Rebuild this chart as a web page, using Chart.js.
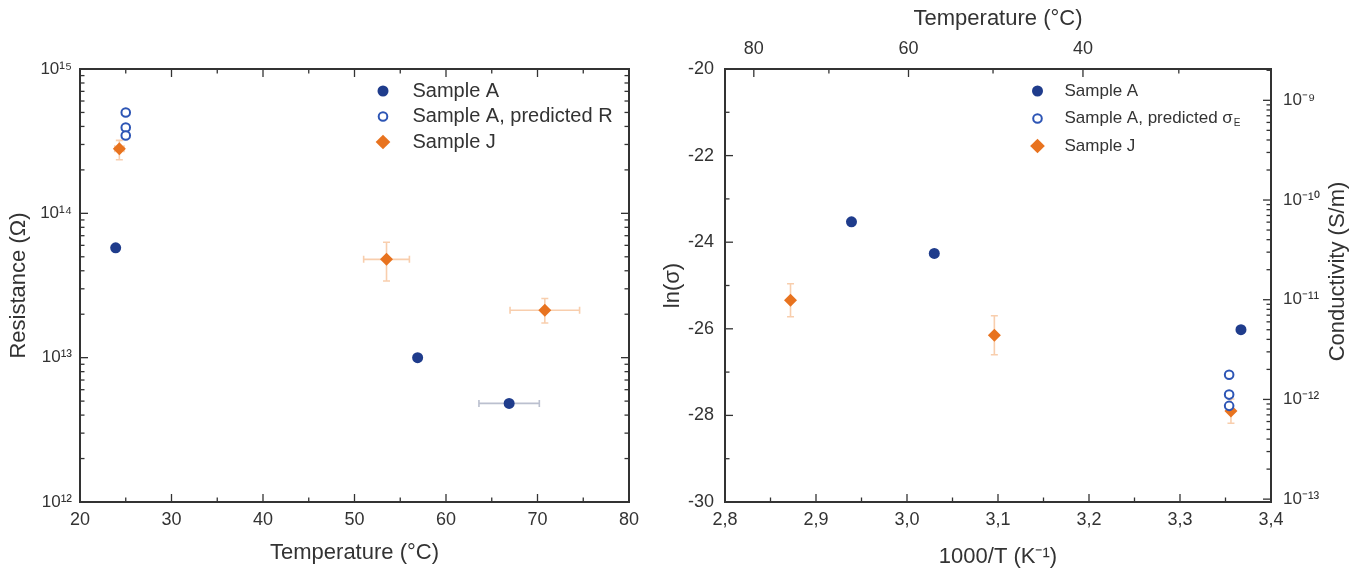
<!DOCTYPE html>
<html><head><meta charset="utf-8">
<script src="https://cdn.jsdelivr.net/npm/chart.js@4/dist/chart.umd.min.js"></script>
<style>
html,body{margin:0;padding:0;background:#fff;}
#wrap{position:relative;width:1362px;height:571px;overflow:hidden;}
#c1{position:absolute;left:0;top:0;}
#c2{position:absolute;left:660px;top:0;}
</style></head><body>
<div id="wrap"><canvas id="c1" width="660" height="571"></canvas><canvas id="c2" width="702" height="571"></canvas></div>
<script>
// ---------- LEFT PANEL DATA: Resistance vs Temperature ----------
const leftA_T      = [23.9, 56.9, 66.9];
const leftA_R      = [5.77e13, 1.0e13, 4.82e12];
const leftA_Terr   = [0, 0, 3.3];
const leftAPred_T  = [25.0, 25.0, 25.0];
const leftAPred_R  = [5.0e14, 3.93e14, 3.46e14];
const leftJ_T      = [24.3, 53.5, 70.8];
const leftJ_R      = [2.8e14, 4.8e13, 2.13e13];
const leftJ_Terr   = [0.5, 2.5, 3.8];
const leftJ_Rlo    = [2.35e14, 3.4e13, 1.74e13];
const leftJ_Rhi    = [3.2e14, 6.3e13, 2.57e13];

// ---------- RIGHT PANEL DATA: ln(sigma) vs 1000/T ----------
const rightA_x     = [2.939, 3.030, 3.367];
const rightA_y     = [-23.53, -24.26, -26.02];
const rightAPred_x = [3.354, 3.354, 3.354];
const rightAPred_y = [-27.06, -27.52, -27.78];
const rightJ_x     = [2.872, 3.096, 3.356];
const rightJ_y     = [-25.34, -26.15, -27.90];
const rightJ_yerr  = [0.38, 0.45, 0.28];

// ---------- TICKS ----------
const leftXMajor  = [20, 30, 40, 50, 60, 70, 80];
const leftXMinor  = [25, 35, 45, 55, 65, 75];
const leftYDecades = [1e12, 1e13, 1e14, 1e15];
const rightXMajor = [2.8, 2.9, 3.0, 3.1, 3.2, 3.3, 3.4];
const rightXMinor = [2.85, 2.95, 3.05, 3.15, 3.25, 3.35];
const rightYMajor = [-30, -28, -26, -24, -22, -20];
const rightYMinor = [-29, -27, -25, -23, -21];
const topTempMajor = [80, 60, 40];
const topTempMinor = [70, 50, 30];
const condDecades  = [1e-13, 1e-12, 1e-11, 1e-10, 1e-9];

// ---------- STYLE ----------
const FONT = "'Liberation Sans', Arial, Helvetica, sans-serif";
const INK = '#333333';
const BLUE = '#1f3c8c';
const OPEN = '#2d55b5';
const ORANGE = '#e8731f';
const ERR_A = 'rgba(150,158,182,0.65)';
const ERR_J = 'rgba(243,165,105,0.55)';

const SUP = {'0':'⁰','1':'¹','2':'²','3':'³','4':'⁴','5':'⁵','6':'⁶','7':'⁷','8':'⁸','9':'⁹','-':'⁻'};
function pow10Label(v){ const e = Math.round(Math.log10(v)); return '10' + String(e).split('').map(c=>SUP[c]).join(''); }
function minorLog(decades, lo, hi){
  const out=[]; for(const d of decades.concat([decades[0]/10])){ for(let k=2;k<=9;k++){ const v=d*k; if(v>=lo && v<=hi) out.push(v);} } return out;
}
const toInvT = t => 1000/(t+273.15);

function pts(xs, ys, extra){ return xs.map((x,i)=>Object.assign({x:x, y:ys[i]}, extra?extra(i,x,ys[i]):{})); }

// ---------- PLUGINS ----------
const errorBars = {
  id:'errorBars',
  beforeDatasetsDraw(chart){
    const ctx = chart.ctx;
    chart.data.datasets.forEach((ds,i)=>{
      if(!ds.errColor) return;
      const meta = chart.getDatasetMeta(i);
      const xs = chart.scales[meta.xAxisID], ys = chart.scales[meta.yAxisID];
      ctx.save(); ctx.strokeStyle = ds.errColor; ctx.lineWidth = 1.6;
      ds.data.forEach(d=>{
        const px = xs.getPixelForValue(d.x), py = ys.getPixelForValue(d.y);
        ctx.beginPath();
        if(d.xMin!=null){
          const a = xs.getPixelForValue(d.xMin), b = xs.getPixelForValue(d.xMax);
          ctx.moveTo(a,py); ctx.lineTo(b,py);
          ctx.moveTo(a,py-3.5); ctx.lineTo(a,py+3.5);
          ctx.moveTo(b,py-3.5); ctx.lineTo(b,py+3.5);
        }
        if(d.yMin!=null){
          const a = ys.getPixelForValue(d.yMin), b = ys.getPixelForValue(d.yMax);
          ctx.moveTo(px,a); ctx.lineTo(px,b);
          ctx.moveTo(px-3.5,a); ctx.lineTo(px+3.5,a);
          ctx.moveTo(px-3.5,b); ctx.lineTo(px+3.5,b);
        }
        ctx.stroke();
      });
      ctx.restore();
    });
  }
};

function drawMarker(ctx, ds, x, y){
  ctx.save();
  ctx.fillStyle = ds.backgroundColor; ctx.strokeStyle = ds.borderColor; ctx.lineWidth = ds.borderWidth||0;
  const r = ds.pointRadius;
  ctx.beginPath();
  if(ds.pointStyle==='rectRot'){
    const h = r*Math.SQRT2*0.8;
    ctx.moveTo(x,y-h); ctx.lineTo(x+h,y); ctx.lineTo(x,y+h); ctx.lineTo(x-h,y); ctx.closePath();
  } else { ctx.arc(x,y,r,0,Math.PI*2); }
  ctx.fill(); if(ds.borderWidth) ctx.stroke();
  ctx.restore();
}

const frameTicks = {
  id:'frameTicks',
  afterDraw(chart, args, opts){
    const ctx = chart.ctx, ca = chart.chartArea;
    ctx.save();
    ctx.strokeStyle = INK; ctx.lineWidth = 1.3;
    (opts.specs||[]).forEach(sp=>{
      const sc = chart.scales[sp.scale];
      const draw = (vals, len)=>{
        vals.forEach(v=>{
          const p = sc.getPixelForValue(v);
          ctx.beginPath();
          if(sp.side==='bottom'){ if(p<ca.left-0.5||p>ca.right+0.5) return; ctx.moveTo(p,ca.bottom); ctx.lineTo(p,ca.bottom-len); }
          else if(sp.side==='top'){ if(p<ca.left-0.5||p>ca.right+0.5) return; ctx.moveTo(p,ca.top); ctx.lineTo(p,ca.top+len); }
          else if(sp.side==='left'){ if(p<ca.top-0.5||p>ca.bottom+0.5) return; ctx.moveTo(ca.left,p); ctx.lineTo(ca.left+len,p); }
          else { if(p<ca.top-0.5||p>ca.bottom+0.5) return; ctx.moveTo(ca.right,p); ctx.lineTo(ca.right-len,p); }
          ctx.stroke();
        });
      };
      draw(sp.major||[], 8);
      draw(sp.minor||[], 4.5);
    });
    ctx.lineWidth = 2; ctx.strokeStyle = INK;
    ctx.strokeRect(ca.left, ca.top, ca.right-ca.left, ca.bottom-ca.top);
    // legend
    const lg = opts.legend;
    if(lg){
      chart.data.datasets.forEach((ds,i)=>{
        const y = ca.top + lg.dy + i*lg.step;
        const mx = ca.left + lg.dx;
        drawMarker(ctx, ds, mx, y);
        ctx.fillStyle = INK; ctx.font = lg.size+'px '+FONT; ctx.textBaseline='middle'; ctx.textAlign='left';
        const tx = mx + lg.gap;
        ctx.fillText(ds.label, tx, y);
        if(ds.labelSub){
          const w = ctx.measureText(ds.label).width;
          ctx.font = Math.round(lg.size*0.6)+'px '+FONT;
          ctx.fillText(ds.labelSub, tx + w + 1, y + lg.size*0.3);
        }
      });
    }
    // rotated side title (reads bottom-to-top)
    const st = opts.sideTitle;
    if(st){
      ctx.save();
      ctx.translate(chart.width - st.fromRight, (ca.top+ca.bottom)/2 + st.dy);
      ctx.rotate(-Math.PI/2);
      ctx.fillStyle = INK; ctx.font = st.size+'px '+FONT; ctx.textAlign='center'; ctx.textBaseline='middle';
      ctx.fillText(st.text, 0, 0);
      ctx.restore();
    }
    ctx.restore();
  }
};

const tickFont = {family:FONT, size:18};
const titleFont = {family:FONT, size:22};

// ---------- LEFT CHART ----------
new Chart(document.getElementById('c1'), {
  type:'scatter',
  data:{datasets:[
    {label:'Sample A', data: pts(leftA_T, leftA_R, (i,x)=> leftA_Terr[i]>0 ? {xMin:x-leftA_Terr[i], xMax:x+leftA_Terr[i]} : {}),
     pointStyle:'circle', pointRadius:5.5, backgroundColor:BLUE, borderColor:BLUE, borderWidth:0, errColor:ERR_A},
    {label:'Sample A, predicted R', data: pts(leftAPred_T, leftAPred_R),
     pointStyle:'circle', pointRadius:4.3, backgroundColor:'#ffffff', borderColor:OPEN, borderWidth:2},
    {label:'Sample J', data: pts(leftJ_T, leftJ_R, (i,x)=>({xMin:x-leftJ_Terr[i], xMax:x+leftJ_Terr[i], yMin:leftJ_Rlo[i], yMax:leftJ_Rhi[i]})),
     pointStyle:'rectRot', pointRadius:6.5, backgroundColor:ORANGE, borderColor:ORANGE, borderWidth:0, errColor:ERR_J}
  ]},
  options:{
    responsive:false, animation:false, devicePixelRatio:1,
    layout:{padding:{top:69, right:31, left:0, bottom:0}},
    plugins:{legend:{display:false}, tooltip:{enabled:false},
      frameTicks:{
        specs:[
          {scale:'x', side:'bottom', major:leftXMajor, minor:leftXMinor},
          {scale:'x', side:'top', major:leftXMajor, minor:leftXMinor},
          {scale:'y', side:'left', major:leftYDecades, minor:minorLog(leftYDecades,1e12,1e15)},
          {scale:'y', side:'right', major:leftYDecades, minor:minorLog(leftYDecades,1e12,1e15)}
        ],
        legend:{dx:303, dy:22, step:25.5, gap:29.5, size:20}
      }
    },
    scales:{
      x:{type:'linear', position:'bottom', min:20, max:80,
        afterFit:s=>{s.height=69;},
        afterBuildTicks:s=>{s.ticks = leftXMajor.map(v=>({value:v}));},
        grid:{display:false, drawTicks:false}, border:{display:false},
        ticks:{font:tickFont, color:INK, padding:7, autoSkip:false, maxRotation:0, callback:v=>String(v)},
        title:{display:true, text:'Temperature (°C)', font:titleFont, color:INK, padding:{top:0, bottom:5}}
      },
      y:{type:'logarithmic', position:'left', min:1e12, max:1e15,
        afterFit:s=>{s.width=80;},
        afterBuildTicks:s=>{s.ticks = leftYDecades.map(v=>({value:v}));},
        grid:{display:false, drawTicks:false}, border:{display:false},
        ticks:{font:{family:FONT,size:17}, color:INK, padding:8, autoSkip:false, callback:v=>pow10Label(v)},
        title:{display:true, text:'Resistance (Ω)', font:titleFont, color:INK, padding:{top:6, bottom:0}}
      }
    }
  },
  plugins:[errorBars, frameTicks]
});

// ---------- RIGHT CHART ----------
new Chart(document.getElementById('c2'), {
  type:'scatter',
  data:{datasets:[
    {label:'Sample A', data: pts(rightA_x, rightA_y),
     pointStyle:'circle', pointRadius:5.5, backgroundColor:BLUE, borderColor:BLUE, borderWidth:0},
    {label:'Sample A, predicted σ', labelSub:'E', data: pts(rightAPred_x, rightAPred_y),
     pointStyle:'circle', pointRadius:4.3, backgroundColor:'#ffffff', borderColor:OPEN, borderWidth:2},
    {label:'Sample J', data: pts(rightJ_x, rightJ_y, (i,x,y)=>({yMin:y-rightJ_yerr[i], yMax:y+rightJ_yerr[i]})),
     pointStyle:'rectRot', pointRadius:6.5, backgroundColor:ORANGE, borderColor:ORANGE, borderWidth:0, errColor:ERR_J}
  ]},
  options:{
    responsive:false, animation:false, devicePixelRatio:1,
    layout:{padding:0},
    plugins:{legend:{display:false}, tooltip:{enabled:false},
      frameTicks:{
        specs:[
          {scale:'x', side:'bottom', major:rightXMajor, minor:rightXMinor},
          {scale:'xT', side:'top', major:topTempMajor.map(toInvT), minor:topTempMinor.map(toInvT)},
          {scale:'y', side:'left', major:rightYMajor, minor:rightYMinor},
          {scale:'yC', side:'right', major:condDecades, minor:minorLog(condDecades, Math.exp(-30), Math.exp(-20))}
        ],
        legend:{dx:312.5, dy:22, step:27.5, gap:27, size:17},
        sideTitle:{text:'Conductivity (S/m)', size:22, fromRight:24, dy:-14}
      }
    },
    scales:{
      x:{type:'linear', position:'bottom', min:2.8, max:3.4,
        afterFit:s=>{s.height=69;},
        afterBuildTicks:s=>{s.ticks = rightXMajor.map(v=>({value:v}));},
        grid:{display:false, drawTicks:false}, border:{display:false},
        ticks:{font:tickFont, color:INK, padding:7, autoSkip:false, maxRotation:0, callback:v=>v.toFixed(1).replace('.', ',')},
        title:{display:true, text:'1000/T (K⁻¹)', font:titleFont, color:INK, padding:{top:0, bottom:1}}
      },
      xT:{type:'linear', position:'top', min:2.8, max:3.4,
        afterFit:s=>{s.height=69;},
        afterBuildTicks:s=>{s.ticks = topTempMajor.map(t=>({value:toInvT(t)}));},
        grid:{display:false, drawTicks:false}, border:{display:false},
        ticks:{font:tickFont, color:INK, padding:9, autoSkip:false, maxRotation:0, callback:v=>String(Math.round(1000/v-273.15))},
        title:{display:true, text:'Temperature (°C)', font:titleFont, color:INK, padding:{top:6, bottom:0}}
      },
      y:{type:'linear', position:'left', min:-30, max:-20,
        afterFit:s=>{s.width=65;},
        afterBuildTicks:s=>{s.ticks = rightYMajor.map(v=>({value:v}));},
        grid:{display:false, drawTicks:false}, border:{display:false},
        ticks:{font:tickFont, color:INK, padding:11, autoSkip:false, callback:v=>String(v)},
        title:{display:true, text:'ln(σ)', font:titleFont, color:INK, padding:{top:0, bottom:0}}
      },
      yC:{type:'logarithmic', position:'right', display:true, min:Math.exp(-30), max:Math.exp(-20),
        afterFit:s=>{s.width=91;},
        afterBuildTicks:s=>{s.ticks = condDecades.map(v=>({value:v}));},
        grid:{display:false, drawTicks:false}, border:{display:false},
        ticks:{font:{family:FONT,size:17}, color:INK, padding:12, autoSkip:false, callback:v=>pow10Label(v)},
        title:{display:false}
      }
    }
  },
  plugins:[errorBars, frameTicks]
});
</script>
</body></html>
